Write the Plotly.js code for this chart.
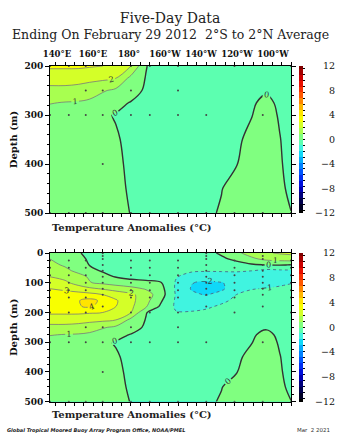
<!DOCTYPE html>
<html><head><meta charset="utf-8">
<script src="https://cdn.plot.ly/plotly-3.0.1.min.js"></script>
<style>html,body{margin:0;padding:0;background:#fff}#chart{width:350px;height:437px}</style>
</head><body><div id="chart"></div>
<script>
// longitudes (deg east) and depths (m) of the anomaly grid
const lons = [137,145,152,158,165,172,180,188,196,204,212,220,228,236,244,252,259,265];
const depths = [0,20,40,60,80,100,120,140,160,180,200,225,250,275,300,350,400,450,500];
// temperature anomaly (deg C) per depth row
const d0   = [0.9,0.5,0.1,-0.3,-0.5,-0.7,-0.8,-0.85,-0.8,-0.65,-0.5,-0.3,0.15,0.8,1.4,1.9,2.1,2.2];
const d20  = [1.0,0.7,0.3,-0.15,-0.4,-0.6,-0.7,-0.75,-0.75,-0.7,-0.6,-0.45,-0.2,0.25,0.8,1.25,1.4,1.5];
const d40  = [1.2,0.9,0.5,-0.03,-0.25,-0.45,-0.55,-0.6,-0.65,-0.7,-0.75,-0.75,-0.65,-0.45,-0.15,0.03,0.05,-0.02];
const d60  = [1.5,1.2,0.8,0.3,-0.1,-0.35,-0.5,-0.55,-0.65,-0.8,-0.9,-0.95,-0.95,-0.95,-1.0,-1.3,-1.2,-1.15];
const d80  = [2.0,1.7,1.3,0.9,0.4,-0.05,-0.25,-0.3,-0.45,-0.95,-1.35,-1.45,-1.35,-1.25,-1.35,-1.75,-1.5,-1.4];
const d100 = [2.6,2.2,1.6,1.05,0.8,0.55,0.35,0.2,0.05,-1.1,-1.95,-2.2,-2.05,-1.7,-1.5,-1.4,-1.2,-1.05];
const d120 = [3.0,2.8,2.5,2.2,1.9,1.6,1.3,0.9,0.3,-1.15,-2.05,-2.4,-2.15,-1.5,-1.05,-0.95,-0.85,-0.75];
const d140 = [3.4,3.4,3.4,3.3,3.0,2.6,2.2,1.5,0.4,-1.1,-1.85,-2.05,-1.7,-1.0,-0.75,-0.65,-0.6,-0.55];
const d160 = [3.6,3.8,3.95,4.3,3.8,3.1,2.3,1.3,0.1,-1.15,-1.6,-1.7,-1.2,-0.8,-0.6,-0.55,-0.5,-0.5];
const d180 = [3.6,3.8,3.95,4.1,3.7,3.0,2.2,1.1,-0.2,-1.15,-1.4,-1.15,-0.85,-0.6,-0.5,-0.45,-0.45,-0.45];
const d200 = [3.2,3.2,3.2,3.1,3.0,2.5,2.0,0.05,-0.6,-0.95,-0.9,-0.8,-0.6,-0.5,-0.45,-0.4,-0.4,-0.4];
const d225 = [2.3,2.3,2.25,2.2,2.2,2.0,0.7,-0.05,-0.4,-0.55,-0.55,-0.5,-0.45,-0.4,-0.35,-0.3,-0.3,-0.35];
const d250 = [1.8,1.8,1.75,1.6,1.1,0.8,0.4,-0.15,-0.35,-0.4,-0.4,-0.35,-0.3,-0.25,-0.15,-0.05,-0.15,-0.3];
const d275 = [1.05,0.95,0.9,0.75,0.5,0.25,-0.05,-0.3,-0.4,-0.4,-0.4,-0.35,-0.25,-0.15,-0.05,0.1,-0.08,-0.2];
const d300 = [0.6,0.55,0.45,0.3,0.12,-0.05,-0.3,-0.4,-0.45,-0.45,-0.45,-0.4,-0.3,-0.15,-0.02,0.2,-0.05,-0.25];
const d350 = [0.5,0.45,0.35,0.25,0.15,0.08,-0.2,-0.35,-0.4,-0.4,-0.4,-0.35,-0.25,-0.1,0.15,0.3,0.02,-0.2];
const d400 = [0.45,0.4,0.35,0.25,0.18,0.08,-0.08,-0.25,-0.35,-0.4,-0.4,-0.3,-0.15,-0.02,0.2,0.35,0.05,-0.15];
const d450 = [0.4,0.35,0.3,0.25,0.15,0.1,-0.05,-0.2,-0.3,-0.35,-0.35,-0.2,-0.02,0.2,0.3,0.35,0.1,-0.1];
const d500 = [0.35,0.3,0.28,0.22,0.15,0.1,-0.01,-0.15,-0.25,-0.3,-0.25,-0.1,0.05,0.2,0.3,0.3,0.15,0.01];
const anomalies = [d0,d20,d40,d60,d80,d100,d120,d140,d160,d180,d200,d225,d250,d275,d300,d350,d400,d450,d500];

// mooring sensor positions (dots)
const mooringLons = [137,147,156,165,180,190,205,220,235,250,265];
const sensorDepths = [
  [25,50,75,100,125,150,200,300,500],
  [25,50,75,100,125,150,200,300,500],
  [25,50,75,100,125,150,200,250,300,500],
  [1,10,20,40,60,80,100,120,140,180,250,300,400,500],
  [25,50,75,100,125,150,200,250,300,500],
  [25,50,75,100,125,150,200,300,500],
  [25,50,75,100,125,150,200,250,300,500],
  [1,10,20,40,60,80,100,120,140,180,300,500],
  [25,50,75,100,125,150,200,500],
  [10,20,40,60,80,100,120,140,180,300,500],
  [25,50,75,100,125,150,200,500]
];

// axis labels
const lonTickVals = [140,160,180,200,220,240,260];
const lonTickText = ['140°E','160°E','180°','160°W','140°W','120°W','100°W'];
const depthTicksTop = [200,300,400,500];
const depthTicksBottom = [0,100,200,300,400,500];
const cbTickVals = [-12,-8,-4,0,4,8,12];
const cbTickText = ['−12','−8','−4','0','4','8','12'];

// colour scale (anomaly value -> colour)
const colorValues = [-12.5,-10,-8,-6,-4,-2.5,-1.5,-0.5,0.5,1.5,2.5,3.5,4.5,6,8,10,12.5];
const colorHex = ['#000000','#000060','#0000d0','#0040ff','#0098ff','#10d8f8','#40f4e0','#5cffb0','#80ff80','#a8ff50','#d4ff28','#f8ff00','#ffe400','#ffa000','#ff4000','#e00000','#800000'];

const colorscale = colorValues.map((v,i)=>[(v+12.5)/25, colorHex[i]]);

const W = 350, H = 437, L = 50;
const px2x = p => (p - L) / 300;
const py2y = p => 1 - p / H;

const serif = 'DejaVu Serif';
const labFont = {family: serif, size: 8, color: '#333'};

const dotX = [], dotY = [];
mooringLons.forEach((lon,i)=>sensorDepths[i].forEach(d=>{dotX.push(lon); dotY.push(d);}));

// top panel shows 200-500 m: use the rows from 200 m down
const topStart = depths.indexOf(200);
const panels = [
  {xa:'x', ya:'y', dom:[py2y(213), py2y(66)], yv:depths.slice(topStart), zv:anomalies.slice(topStart), dmin:200},
  {xa:'x2', ya:'y2', dom:[py2y(401.7), py2y(253)], yv:depths, zv:anomalies, dmin:0}
];

const traces = [];
panels.forEach(p=>{
  traces.push({
    type:'contour', x:lons, y:p.yv, z:p.zv, xaxis:p.xa, yaxis:p.ya,
    autocontour:false, contours:{start:-12, end:12, size:1, coloring:'fill', showlines:false},
    line:{width:0, smoothing:1}, colorscale:colorscale, hoverinfo:'skip',
    showscale:true,
    colorbar:{x:px2x(299), xanchor:'left', xpad:0, thickness:4, thicknessmode:'pixels',
      y:p.dom[0], yanchor:'bottom', len:p.dom[1]-p.dom[0], lenmode:'fraction', ypad:0,
      outlinewidth:0, showticklabels:false, ticks:'outside', ticklen:2, tickwidth:1,
      tickmode:'linear', tick0:0, dtick:1, tickcolor:'#000'}
  });
  traces.push({
    type:'contour', x:lons, y:p.yv, z:p.zv, xaxis:p.xa, yaxis:p.ya,
    autocontour:false, contours:{start:1, end:12, size:1, coloring:'none', showlines:true, showlabels:true, labelfont:labFont},
    line:{color:'#7a7a7a', width:0.8, smoothing:1}, showscale:false, hoverinfo:'skip'
  });
  traces.push({
    type:'contour', x:lons, y:p.yv, z:p.zv, xaxis:p.xa, yaxis:p.ya,
    autocontour:false, contours:{start:-12, end:-1, size:1, coloring:'none', showlines:true, showlabels:true, labelfont:labFont},
    line:{color:'#4a6a8a', width:0.9, dash:'dot', smoothing:1}, showscale:false, hoverinfo:'skip'
  });
  traces.push({
    type:'contour', x:lons, y:p.yv, z:p.zv, xaxis:p.xa, yaxis:p.ya,
    autocontour:false, contours:{start:0, end:0.5, size:1, coloring:'none', showlines:true, showlabels:true, labelfont:labFont},
    line:{color:'#333', width:1.4, smoothing:1}, showscale:false, hoverinfo:'skip'
  });
  const dx = [], dy = [];
  dotX.forEach((x,i)=>{ if (dotY[i] >= p.dmin) { dx.push(x); dy.push(dotY[i]); } });
  traces.push({
    type:'scatter', mode:'markers', x:dx, y:dy, xaxis:p.xa, yaxis:p.ya,
    marker:{size:2, color:'#444'}, hoverinfo:'skip', showlegend:false
  });
});
// helper traces so the label-only axes exist
traces.push({type:'scatter', x:[], y:[], xaxis:'x3', yaxis:'y', showlegend:false, hoverinfo:'skip'});
traces.push({type:'scatter', x:[], y:[], xaxis:'x', yaxis:'y3', showlegend:false, hoverinfo:'skip'});
traces.push({type:'scatter', x:[], y:[], xaxis:'x2', yaxis:'y4', showlegend:false, hoverinfo:'skip'});

const tickFont = {family: serif, size: 9, color:'#111', weight:'bold'};
const xBase = {domain:[0, 241/300], range:[137,265], showticklabels:false, ticks:'outside', ticklen:3,
  tickmode:'linear', tick0:0, dtick:5, showline:true, linecolor:'#000', linewidth:1, mirror:'ticks',
  showgrid:false, zeroline:false, tickcolor:'#000'};
const yBase = {ticks:'outside', ticklen:4, showline:true, linecolor:'#000', linewidth:1, mirror:'ticks',
  showgrid:false, zeroline:false, tickfont:tickFont, tickcolor:'#000',
  title:{text:'Depth (m)', standoff:4, font:{family:serif, size:10, color:'#111', weight:'bold'}}};
const cbAxis = {anchor:'free', position:px2x(335), side:'left', range:[-12,12], tickvals:cbTickVals, ticktext:cbTickText,
  ticks:'', showline:false, showgrid:false, zeroline:false, tickfont:{family:serif, size:9.5, color:'#111'}};

const layout = {
  width:W, height:H, margin:{l:L, r:0, t:0, b:0},
  paper_bgcolor:'#fff', plot_bgcolor:'#fff', showlegend:false,
  title:{text:'Five-Day Data', x:170/W, xref:'container', xanchor:'center', y:1-18/H, yref:'container', yanchor:'middle',
    font:{family:serif, size:14, color:'#222'}},
  xaxis:Object.assign({}, xBase, {anchor:'y'}),
  xaxis2:Object.assign({}, xBase, {anchor:'y2'}),
  xaxis3:{overlaying:'x', anchor:'y', side:'top', range:[136.1,270], tickvals:lonTickVals, ticktext:lonTickText, tickangle:0,
    ticks:'outside', ticklen:5, tickcolor:'rgba(0,0,0,0)', showline:false, showgrid:false, zeroline:false,
    tickfont:{family: serif, size: 8.5, color:'#111', weight:'bold'}},
  yaxis:Object.assign({}, yBase, {domain:panels[0].dom, anchor:'x', range:[500,200], tickvals:depthTicksTop,
    minor:{tickmode:'linear', tick0:0, dtick:20, ticks:'outside', ticklen:2, tickcolor:'#000'}}),
  yaxis2:Object.assign({}, yBase, {domain:panels[1].dom, anchor:'x2', range:[500,0], tickvals:depthTicksBottom,
    minor:{tickmode:'linear', tick0:0, dtick:25, ticks:'outside', ticklen:2, tickcolor:'#000'}}),
  yaxis3:Object.assign({}, cbAxis, {overlaying:'y'}),
  yaxis4:Object.assign({}, cbAxis, {overlaying:'y2'}),
  annotations:[
    {text:'Ending On February 29 2012 \u00a02°S to 2°N Average', xref:'paper', yref:'paper', x:px2x(170), y:py2y(35),
      xanchor:'center', yanchor:'middle', showarrow:false, font:{family:serif, size:12.5, color:'#222'}},
    {text:'Temperature Anomalies (°C)', xref:'paper', yref:'paper', x:0, y:py2y(227), xanchor:'left', yanchor:'middle',
      showarrow:false, font:{family:serif, size:10, color:'#222', weight:'bold'}},
    {text:'Temperature Anomalies (°C)', xref:'paper', yref:'paper', x:0, y:py2y(414), xanchor:'left', yanchor:'middle',
      showarrow:false, font:{family:serif, size:10, color:'#222', weight:'bold'}},
    {text:'Global Tropical Moored Buoy Array Program Office, NOAA/PMEL', xref:'paper', yref:'paper', x:px2x(5), y:py2y(430),
      xanchor:'left', yanchor:'middle', showarrow:false, font:{family:'DejaVu Sans', size:5, color:'#222', weight:'bold', style:'italic'}},
    {text:'Mar \u00a02 2021', xref:'paper', yref:'paper', x:px2x(332), y:py2y(430), xanchor:'right', yanchor:'middle',
      showarrow:false, font:{family:'DejaVu Sans', size:5.5, color:'#333'}}
  ]
};

Plotly.newPlot('chart', traces, layout, {staticPlot:true, displayModeBar:false});
</script>
</body></html>
